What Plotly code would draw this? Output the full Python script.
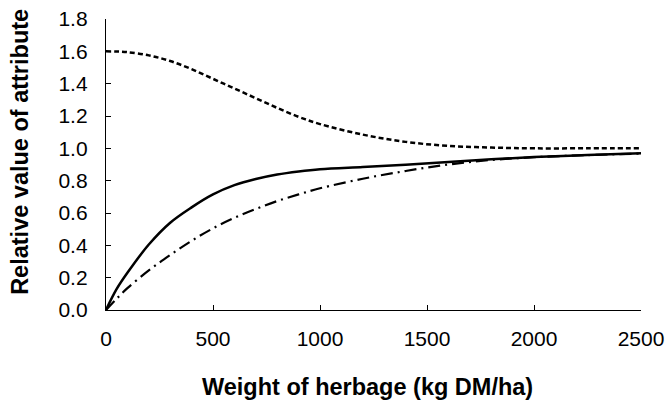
import plotly.graph_objects as go

# herbage weight (kg DM/ha) at which the curves were read
herbage = [0, 50, 100, 200, 300, 400, 500, 600, 700, 800, 900, 1000,
           1200, 1400, 1600, 1800, 2000, 2250, 2500]

# dashed curve (starts at 1.6, falls to 1.0)
dashed = [1.60, 1.599, 1.595, 1.575, 1.54, 1.49, 1.43, 1.37, 1.31, 1.25, 1.195, 1.15,
          1.085, 1.04, 1.015, 1.005, 1.0, 1.0, 1.0]

# solid curve
solid = [0.0, 0.13, 0.23, 0.405, 0.54, 0.635, 0.715, 0.772, 0.81, 0.838, 0.857, 0.871,
         0.885, 0.899, 0.916, 0.932, 0.946, 0.958, 0.969]

# dash-dot curve
dashdot = [0.0, 0.07, 0.135, 0.245, 0.34, 0.428, 0.505, 0.57, 0.625, 0.674, 0.715, 0.753,
           0.812, 0.86, 0.9, 0.928, 0.945, 0.958, 0.968]

y_ticks = [0.0, 0.2, 0.4, 0.6, 0.8, 1.0, 1.2, 1.4, 1.6, 1.8]
x_ticks = [0, 500, 1000, 1500, 2000, 2500]

FONT = "Liberation Sans, Arial, sans-serif"

fig = go.Figure()
fig.add_trace(go.Scatter(x=herbage, y=dashed, mode="lines", line_shape="spline",
                         line=dict(color="black", width=2.5, dash="5px,3px")))
fig.add_trace(go.Scatter(x=herbage, y=solid, mode="lines", line_shape="spline",
                         line=dict(color="black", width=2.5)))
fig.add_trace(go.Scatter(x=herbage, y=dashdot, mode="lines", line_shape="spline",
                         line=dict(color="black", width=2.2, dash="12px,5px,2px,5px")))

fig.update_xaxes(range=[0, 2500], tickvals=x_ticks, showgrid=False, zeroline=False,
                 showline=True, linecolor="black", linewidth=1.3, automargin=False,
                 ticks="inside", ticklen=5, tickcolor="black", tickwidth=1.3,
                 tickfont=dict(family=FONT, size=21, color="black"),
                 ticklabelstandoff=10)
fig.update_yaxes(range=[0, 1.8], tickvals=y_ticks, tickformat=".1f", showgrid=False,
                 zeroline=False, showline=True, linecolor="black", linewidth=1.3,
                 automargin=False,
                 ticks="inside", ticklen=5, tickcolor="black", tickwidth=1.3,
                 tickfont=dict(family=FONT, size=21, color="black"),
                 ticklabelstandoff=13)

fig.add_annotation(text="<b>Weight of herbage (kg DM/ha)</b>", xref="paper", yref="paper",
                   x=0.489, y=-0.265, xanchor="center", yanchor="middle", showarrow=False,
                   font=dict(family=FONT, size=23.5, color="black"))
fig.add_annotation(text="<b>Relative value of attribute</b>", xref="paper", yref="paper",
                   x=-0.161, y=0.543, xanchor="center", yanchor="middle", showarrow=False,
                   textangle=-90, font=dict(family=FONT, size=23.5, color="black"))

fig.update_layout(width=666, height=405, showlegend=False,
                  margin=dict(l=106, r=25, t=19, b=95),
                  plot_bgcolor="white", paper_bgcolor="white")

# page body has a default 8px margin; drop it so the figure fills the window
fig.write_html("out.html", config={"displayModeBar": False},
               post_script="document.body.style.margin='0';")
